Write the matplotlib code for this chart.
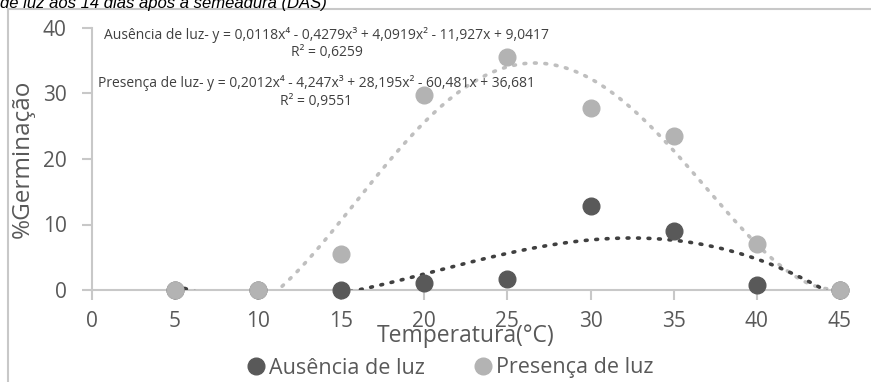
import numpy as np
import matplotlib.pyplot as plt
from matplotlib.lines import Line2D

# dados
temperatura = [5, 10, 15, 20, 25, 30, 35, 40, 45]
ausencia = [0, 0, 0, 1.0, 1.7, 12.8, 9.0, 0.7, 0]
presenca = [0, 0, 5.5, 29.8, 35.5, 27.8, 23.5, 7.0, 0]
xticks = [0, 5, 10, 15, 20, 25, 30, 35, 40, 45]
yticks = [0, 10, 20, 30, 40]

eq_ausencia = "Ausência de luz- y = 0,0118x⁴ - 0,4279x³ + 4,0919x² - 11,927x + 9,0417"
r2_ausencia = "R² = 0,6259"
eq_presenca = "Presença de luz- y = 0,2012x⁴ - 4,247x³ + 28,195x² - 60,481x + 36,681"
r2_presenca = "R² = 0,9551"

fonte = ['Open Sans', 'DejaVu Sans']
cor_escura = '#595959'
cor_clara = '#b3b3b3'
cor_eixo = '#c8c8c8'
cor_texto = '#595959'

W, H = 871, 382
fig = plt.figure(figsize=(W / 100, H / 100), dpi=100)

# moldura e legenda cortada no topo
fig.add_artist(Line2D([8 / W, 8 / W], [0, 1 - 9 / H], color=cor_eixo, lw=1.5))
fig.add_artist(Line2D([8 / W, 1], [1 - 9 / H, 1 - 9 / H], color=cor_eixo, lw=1.5))
fig.text(0.0, 1 - 8 / H, "de luz aos 14 dias após a semeadura (DAS)", fontsize=12,
         style='italic', family='Liberation Sans', va='baseline', ha='left')

x0, x1 = 91.7, 840
y0, y1 = 290, 28
ax = fig.add_axes([x0 / W, 1 - y0 / H, (x1 - x0) / W, (y0 - y1) / H])
ax.set_xlim(0, 45)
ax.set_ylim(0, 40)

# linhas de tendência (polinomial de ordem 4, x = índice do ponto)
idx = np.array(temperatura, dtype=float) / 5
xs = np.linspace(idx[0], idx[-1], 400)
for serie, cor in [(presenca, '#bfbfbf'), (ausencia, '#404040')]:
    coef = np.polyfit(idx, serie, 4)
    ax.plot(xs * 5, np.polyval(coef, xs), color=cor, lw=2.6, ls=(0, (0.5, 2.4)),
            dash_capstyle='round', zorder=2)

ax.plot(temperatura, ausencia, 'o', color=cor_escura, ms=12, clip_on=False, zorder=3,
        label='Ausência de luz')
ax.plot(temperatura, presenca, 'o', color=cor_clara, ms=12, clip_on=False, zorder=4,
        label='Presença de luz')

for s in ['top', 'right']:
    ax.spines[s].set_visible(False)
for s in ['left', 'bottom']:
    ax.spines[s].set_color(cor_eixo)
    ax.spines[s].set_linewidth(1.5)
    ax.spines[s].set_zorder(1)

ax.set_xticks(xticks)
ax.set_yticks(yticks)
ax.tick_params(axis='both', colors=cor_eixo, width=1.5, length=7, labelcolor=cor_texto,
               labelsize=15)
ax.tick_params(axis='y', pad=11)
ax.tick_params(axis='x', pad=8)
for lab in ax.get_xticklabels() + ax.get_yticklabels():
    lab.set_family(fonte)

ax.set_xlabel("Temperatura(°C)", fontsize=16.5, color=cor_texto, family=fonte, labelpad=-6)
ax.set_ylabel("%Germinação", fontsize=17.5, color=cor_texto, family=fonte, labelpad=6)


# equações
def px_para_dados(px, py):
    return (px - x0) / (x1 - x0) * 45, 40 * (y0 - py) / (y0 - y1)


for texto, (px, py) in [(eq_ausencia, (327, 35)), (r2_ausencia, (327, 53)),
                        (eq_presenca, (316, 83)), (r2_presenca, (316, 102))]:
    ax.text(*px_para_dados(px, py), texto, fontsize=10, color='#404040', ha='center',
            va='center', family=fonte)

leg = fig.legend(loc='center', bbox_to_anchor=(449 / W, 1 - 368 / H), ncol=2, frameon=False,
                 handletextpad=0.1, columnspacing=2.2, handlelength=1.0, markerscale=1.0,
                 borderpad=0, prop={'family': fonte, 'size': 15.5})
for txt in leg.get_texts():
    txt.set_color(cor_texto)

fig.savefig('out.png', dpi=100)
